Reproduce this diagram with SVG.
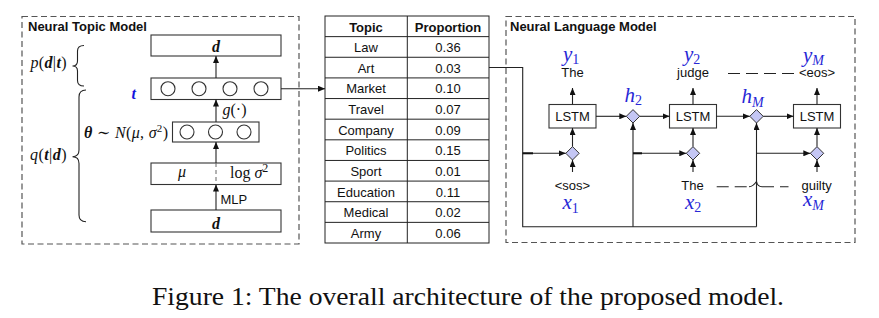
<svg xmlns="http://www.w3.org/2000/svg" width="879" height="318" viewBox="0 0 879 318">
<defs>
<marker id="ah" markerWidth="7" markerHeight="6" refX="7" refY="3" orient="auto" markerUnits="userSpaceOnUse">
<path d="M0,0 L7,3 L0,6 z" fill="#111"/>
</marker>
<style>
.frame{fill:none;stroke:#555;stroke-width:1.2;stroke-dasharray:6 3.5}
.box{fill:#fff;stroke:#333;stroke-width:1.1}
.cell{fill:none;stroke:#222;stroke-width:1}
.circ{fill:#fff;stroke:#333;stroke-width:1.1}
.dia{fill:#c4c6f4;stroke:#333;stroke-width:1}
.ln{fill:none;stroke:#222;stroke-width:1.1}
.arr{fill:none;stroke:#222;stroke-width:1.1;marker-end:url(#ah)}
.sans{font-family:"Liberation Sans",Arial,sans-serif;font-size:13px;fill:#111}
.title{font-family:"Liberation Sans",Arial,sans-serif;font-size:13px;font-weight:bold;fill:#111}
.th{font-family:"Liberation Sans",Arial,sans-serif;font-size:13px;font-weight:bold;fill:#111;text-anchor:middle}
.td{font-family:"Liberation Sans",Arial,sans-serif;font-size:13px;fill:#111;text-anchor:middle}
.mid{text-anchor:middle}
.math{font-family:"Liberation Serif","Times New Roman","DejaVu Serif",serif;font-size:16px;fill:#111}
.bi{font-weight:bold;font-style:italic}
.it{font-style:italic}
.var{font-family:"Liberation Serif","Times New Roman",serif;font-size:21px;font-style:italic;fill:#2727d6}
.sub{font-size:14px}
.dash{fill:none;stroke:#222;stroke-width:1.1;stroke-dasharray:12 6}
.cap{font-family:"Liberation Serif","Times New Roman",serif;font-size:25px;fill:#111}
</style>
</defs>

<g id="neural-topic-model">
<rect class="frame" x="22" y="16.5" width="277" height="227.5"/>
<text class="title" x="28" y="31">Neural Topic Model</text>
</g>

<g id="node-d-top">
<rect class="box" x="151" y="35" width="130" height="21"/>
<text class="math bi mid" x="216" y="52" font-size="21">d</text>
</g>

<g id="node-t">
<rect class="box" x="151" y="78" width="130" height="21.5"/>
<circle class="circ" cx="168" cy="88.7" r="7"/>
<circle class="circ" cx="199" cy="88.7" r="7"/>
<circle class="circ" cx="230" cy="88.7" r="7"/>
<circle class="circ" cx="261" cy="88.7" r="7"/>
<text class="math bi" x="131.5" y="98.5" font-size="28" style="fill:#1515dd">t</text>
</g>

<g id="node-theta">
<rect class="box" x="172.5" y="122" width="86.5" height="20"/>
<circle class="circ" cx="187" cy="132" r="7"/>
<circle class="circ" cx="215.5" cy="132" r="7"/>
<circle class="circ" cx="244" cy="132" r="7"/>
<text class="math" x="84" y="138" textLength="84" lengthAdjust="spacing"><tspan class="bi">θ</tspan> ∼ <tspan class="it">N</tspan>(<tspan class="it">μ</tspan>, <tspan class="it">σ</tspan><tspan font-size="11" dy="-6">2</tspan><tspan dy="6">)</tspan></text>
</g>

<g id="node-mu-sigma">
<rect class="box" x="151" y="163" width="130" height="21.5"/>
<line x1="216" y1="163" x2="216" y2="184.5" stroke="#666" stroke-width="1" stroke-dasharray="4 3"/>
<text class="math it" x="178" y="177" font-size="17">μ</text>
<text class="math" x="230" y="178" font-size="17">log <tspan class="it">σ</tspan><tspan font-size="12" dy="-6">2</tspan></text>
</g>

<g id="node-d-bottom">
<rect class="box" x="151" y="210" width="130" height="22"/>
<text class="math bi mid" x="216" y="228.5" font-size="21">d</text>
</g>

<g id="brace-p">
<path class="ln" stroke-width="1.3" d="M84 45.5 Q77.5 45.5 77.5 51 L77.5 61 Q77.5 66 72.5 66 Q77.5 66 77.5 71 L77.5 80.5 Q77.5 86 84 86"/>
<text class="math" x="30.5" y="68" font-size="17" textLength="36" lengthAdjust="spacing"><tspan class="it">p</tspan>(<tspan class="bi">d</tspan>|<tspan class="bi">t</tspan>)</text>
</g>

<g id="brace-q">
<path class="ln" stroke-width="1.3" d="M86 90 Q79 90 79 97 L79 150 Q79 156.7 72.5 156.7 Q79 156.7 79 163.5 L79 215 Q79 221.7 86 221.7"/>
<text class="math" x="30" y="159.5" font-size="17" textLength="36.5" lengthAdjust="spacing"><tspan class="it">q</tspan>(<tspan class="bi">t</tspan>|<tspan class="bi">d</tspan>)</text>
</g>

<g id="topic-table">
<rect class="cell" x="325" y="16" width="164" height="227"/>
<line class="cell" x1="407.3" y1="16" x2="407.3" y2="243"/>
<line class="cell" x1="325" y1="36.64" x2="489" y2="36.64"/>
<line class="cell" x1="325" y1="57.27" x2="489" y2="57.27"/>
<line class="cell" x1="325" y1="77.91" x2="489" y2="77.91"/>
<line class="cell" x1="325" y1="98.55" x2="489" y2="98.55"/>
<line class="cell" x1="325" y1="119.18" x2="489" y2="119.18"/>
<line class="cell" x1="325" y1="139.82" x2="489" y2="139.82"/>
<line class="cell" x1="325" y1="160.45" x2="489" y2="160.45"/>
<line class="cell" x1="325" y1="181.09" x2="489" y2="181.09"/>
<line class="cell" x1="325" y1="201.73" x2="489" y2="201.73"/>
<line class="cell" x1="325" y1="222.36" x2="489" y2="222.36"/>
<text class="th" x="366" y="31.5">Topic</text>
<text class="th" x="448" y="31.5">Proportion</text>
<text class="td" x="366" y="52.1">Law</text><text class="td" x="448" y="52.1">0.36</text>
<text class="td" x="366" y="72.8">Art</text><text class="td" x="448" y="72.8">0.03</text>
<text class="td" x="366" y="93.4">Market</text><text class="td" x="448" y="93.4">0.10</text>
<text class="td" x="366" y="114">Travel</text><text class="td" x="448" y="114">0.07</text>
<text class="td" x="366" y="134.7">Company</text><text class="td" x="448" y="134.7">0.09</text>
<text class="td" x="366" y="155.3">Politics</text><text class="td" x="448" y="155.3">0.15</text>
<text class="td" x="366" y="176">Sport</text><text class="td" x="448" y="176">0.01</text>
<text class="td" x="366" y="196.6">Education</text><text class="td" x="448" y="196.6">0.11</text>
<text class="td" x="366" y="217.2">Medical</text><text class="td" x="448" y="217.2">0.02</text>
<text class="td" x="366" y="237.9">Army</text><text class="td" x="448" y="237.9">0.06</text>
</g>

<g id="neural-language-model">
<rect class="frame" x="506" y="16.5" width="349" height="226"/>
<text class="title" x="510" y="31">Neural Language Model</text>
</g>

<g id="lstm-1">
<rect class="box" x="549" y="104.5" width="47" height="23.5"/>
<text class="td" x="572.5" y="121">LSTM</text>
</g>
<g id="lstm-2">
<rect class="box" x="669.5" y="104.5" width="47" height="23.5"/>
<text class="td" x="693" y="121">LSTM</text>
</g>
<g id="lstm-3">
<rect class="box" x="793.5" y="104.5" width="47" height="23.5"/>
<text class="td" x="817" y="121">LSTM</text>
</g>

<g id="join-x1"><path class="dia" d="M572.5 146.6 L579.2 153.3 L572.5 160 L565.8 153.3 z"/></g>
<g id="join-x2"><path class="dia" d="M693 146.6 L699.7 153.3 L693 160 L686.3 153.3 z"/></g>
<g id="join-xM"><path class="dia" d="M817 146.6 L823.7 153.3 L817 160 L810.3 153.3 z"/></g>
<g id="node-h2">
<path class="dia" d="M633 109.6 L639.7 116.3 L633 123 L626.3 116.3 z"/>
<text class="var" x="624.5" y="101.5">h<tspan class="sub" font-style="normal" dy="3.5">2</tspan></text>
</g>
<g id="node-hM">
<path class="dia" d="M756.5 109.6 L763.2 116.3 L756.5 123 L749.8 116.3 z"/>
<text class="var" x="741.5" y="103">h<tspan class="sub" dy="3.5">M</tspan></text>
</g>

<g id="output-y1">
<text class="var" x="563" y="61">y<tspan class="sub" font-style="normal" dy="3">1</tspan></text>
<text class="td" x="572.5" y="76.5">The</text>
</g>
<g id="output-y2">
<text class="var" x="684" y="61">y<tspan class="sub" font-style="normal" dy="3">2</tspan></text>
<text class="td" x="693" y="76.5">judge</text>
</g>
<g id="output-yM">
<text class="var" x="803" y="61.5">y<tspan class="sub" dy="3">M</tspan></text>
<text class="td" x="817" y="76.5">&lt;eos&gt;</text>
</g>
<g id="input-x1">
<text class="td" x="572.5" y="190">&lt;sos&gt;</text>
<text class="var" x="562.5" y="209" font-size="20">x<tspan class="sub" font-style="normal" dy="3.5">1</tspan></text>
</g>
<g id="input-x2">
<text class="td" x="692.5" y="189.5">The</text>
<text class="var" x="685" y="208.5" font-size="20">x<tspan class="sub" font-style="normal" dy="3.5">2</tspan></text>
</g>
<g id="input-xM">
<text class="td" x="816.7" y="190">guilty</text>
<text class="var" x="803" y="206" font-size="20">x<tspan class="sub" dy="3.5">M</tspan></text>
</g>

<g id="connectors">
<line class="arr" x1="216" y1="78" x2="216" y2="56"/>
<line class="arr" x1="216" y1="122" x2="216" y2="99.5"/>
<line class="arr" x1="216" y1="163" x2="216" y2="142"/>
<line class="arr" x1="216" y1="210" x2="216" y2="184.5"/>
<text class="math it" x="222.5" y="115" font-size="16">g<tspan font-style="normal">(·)</tspan></text>
<text class="sans" x="220.5" y="204">MLP</text>
<line class="arr" x1="281" y1="88.7" x2="325" y2="88.7"/>
<path class="ln" d="M489 67.5 H522.7 V226.7 H756.5"/>
<line class="arr" x1="633" y1="226.7" x2="633" y2="123"/>
<line class="arr" x1="756.5" y1="226.7" x2="756.5" y2="123"/>
<line class="arr" x1="522.7" y1="153.3" x2="565.8" y2="153.3"/>
<line class="arr" x1="633" y1="153.3" x2="686.3" y2="153.3"/>
<line class="arr" x1="756.5" y1="153.3" x2="810.3" y2="153.3"/>
<line x1="522.7" y1="153.3" x2="533" y2="153.3" stroke="#111" stroke-width="2"/>
<line x1="633" y1="153.3" x2="642" y2="153.3" stroke="#111" stroke-width="2"/>
<line class="arr" x1="572.5" y1="104.5" x2="572.5" y2="88"/>
<line class="arr" x1="693" y1="104.5" x2="693" y2="88"/>
<line class="arr" x1="817" y1="104.5" x2="817" y2="88"/>
<line class="arr" x1="572.5" y1="146.6" x2="572.5" y2="128"/>
<line class="arr" x1="693" y1="146.6" x2="693" y2="128"/>
<line class="arr" x1="817" y1="146.6" x2="817" y2="128"/>
<line class="arr" x1="572.5" y1="172" x2="572.5" y2="160"/>
<line class="arr" x1="693" y1="172" x2="693" y2="160"/>
<line class="arr" x1="817" y1="172" x2="817" y2="160"/>
<line class="arr" x1="596" y1="116.3" x2="626.3" y2="116.3"/>
<line class="arr" x1="639.7" y1="116.3" x2="669.5" y2="116.3"/>
<line class="arr" x1="716.5" y1="116.3" x2="749.8" y2="116.3"/>
<line class="arr" x1="763.2" y1="116.3" x2="793.5" y2="116.3"/>
<path class="dash" d="M728 73.5 H797"/>
<path class="dash" d="M716.7 186.7 H749"/>
<path class="ln" d="M749 186.7 Q753 186.7 756.5 181.5 Q757.5 186.7 762 186.7"/>
<path class="dash" d="M762 186.7 H788.5"/>
</g>

<text class="cap" x="152" y="305" textLength="632" lengthAdjust="spacingAndGlyphs">Figure 1: The overall architecture of the proposed model.</text>
</svg>
